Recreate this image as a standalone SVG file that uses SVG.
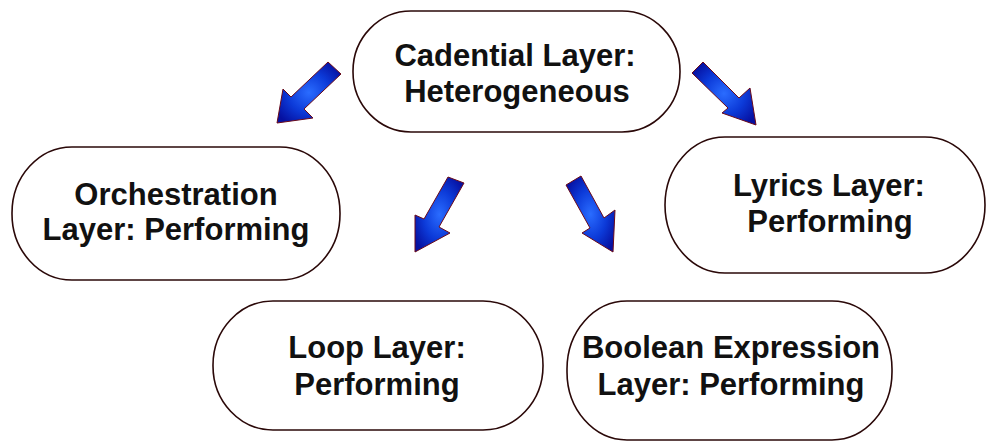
<svg xmlns="http://www.w3.org/2000/svg" width="986" height="442" viewBox="0 0 986 442">
<style>
.node{fill:#fff;stroke:#2a0808;stroke-width:1.6}
.lbl{font-family:"Liberation Sans",Arial,sans-serif;font-weight:bold;font-size:31px;fill:#111;text-anchor:middle}
.arr{fill:url(#blue);stroke:#6a0a1a;stroke-width:1;stroke-linejoin:miter}
</style>
<defs>
<radialGradient id="blue" cx="0.5" cy="0.5" r="0.6">
<stop offset="0" stop-color="#2a6cff"/>
<stop offset="0.55" stop-color="#0c3ad8"/>
<stop offset="1" stop-color="#0610a0"/>
</radialGradient>
</defs>
<rect width="986" height="442" fill="#fff"/>
<g id="connectors">
<polygon class="arr" points="328,62 341,74 304,109 313,118 277,123 283,89 291,97"/>
<polygon class="arr" points="692,73 703,62 739,98 750,88 756,125 722,113 728,108"/>
<polygon class="arr" points="448,177 464,183 439,227 450,233 415,252 415,215 424,219"/>
<polygon class="arr" points="566,185 581,176 604,218 615,210 613,252 582,233 590,228"/>
</g>
<g id="cadential">
<rect class="node" x="353" y="11" width="327" height="121" rx="58" ry="60"/>
<text class="lbl" x="515" y="66">Cadential Layer:</text>
<text class="lbl" x="517" y="102">Heterogeneous</text>
</g>
<g id="orchestration">
<rect class="node" x="12" y="147" width="328" height="133" rx="60" ry="66"/>
<text class="lbl" x="176" y="205">Orchestration</text>
<text class="lbl" x="176" y="240">Layer: Performing</text>
</g>
<g id="lyrics">
<rect class="node" x="665" y="137" width="320" height="136" rx="60" ry="68"/>
<text class="lbl" x="829" y="196">Lyrics Layer:</text>
<text class="lbl" x="830" y="232">Performing</text>
</g>
<g id="loop">
<rect class="node" x="213" y="301" width="330" height="129" rx="60" ry="64"/>
<text class="lbl" x="377" y="358">Loop Layer:</text>
<text class="lbl" x="377" y="395">Performing</text>
</g>
<g id="boolean">
<rect class="node" x="567" y="301" width="325" height="139" rx="60" ry="68"/>
<text class="lbl" x="731" y="358">Boolean Expression</text>
<text class="lbl" x="731" y="395">Layer: Performing</text>
</g>
</svg>
